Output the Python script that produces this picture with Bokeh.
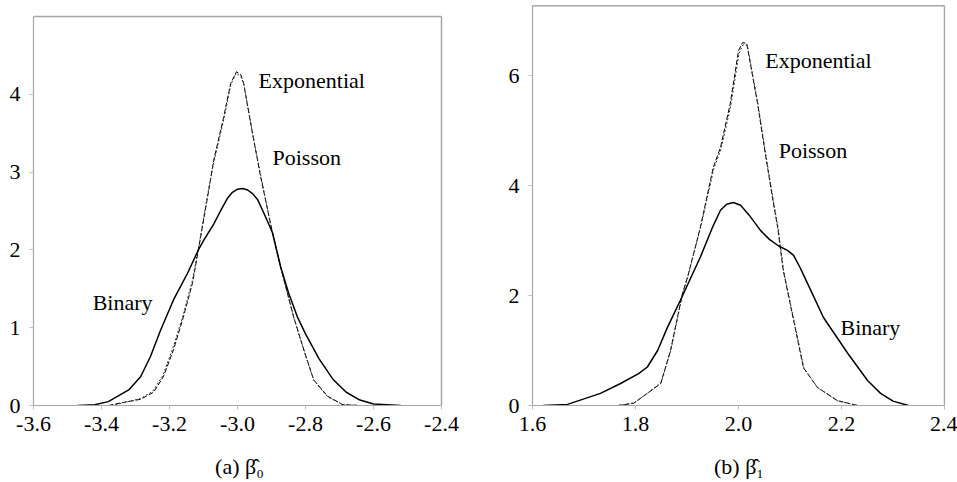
from bokeh.plotting import figure
from bokeh.layouts import row
from bokeh.models import FixedTicker, Range1d
from bokeh.core.properties import value
from bokeh.embed import file_html
from bokeh.resources import INLINE

FONT = "'Liberation Serif', 'Times New Roman', serif"

# ---------- panel (a): beta_0 ----------
a_binary_x = [-3.47, -3.42, -3.38, -3.32, -3.285, -3.256, -3.226, -3.188, -3.147, -3.115,
              -3.1, -3.07, -3.05, -3.03, -3.015, -3.0, -2.985, -2.97, -2.955, -2.94,
              -2.917, -2.897, -2.873, -2.85, -2.824, -2.8, -2.76, -2.718, -2.68, -2.64,
              -2.6, -2.52]
a_binary_y = [0.0, 0.01, 0.05, 0.2, 0.37, 0.63, 0.97, 1.36, 1.7, 2.0,
              2.12, 2.33, 2.5, 2.66, 2.74, 2.78, 2.79, 2.77, 2.72, 2.64,
              2.42, 2.22, 1.78, 1.45, 1.14, 0.92, 0.6, 0.33, 0.17, 0.07,
              0.02, 0.0]

a_expo_x = [-3.38, -3.335, -3.285, -3.247, -3.218, -3.188, -3.159, -3.132, -3.115, -3.088,
            -3.07, -3.041, -3.02, -3.003, -2.99, -2.982, -2.956, -2.932, -2.897, -2.873,
            -2.835, -2.8, -2.776, -2.735, -2.69, -2.638]
a_expo_y = [0.0, 0.04, 0.08, 0.17, 0.37, 0.72, 1.14, 1.58, 2.0, 2.68,
            3.15, 3.7, 4.14, 4.29, 4.25, 4.14, 3.5, 2.94, 2.22, 1.78,
            1.14, 0.65, 0.33, 0.12, 0.01, 0.0]

a_pois_x = [-3.37, -3.33, -3.285, -3.25, -3.22, -3.19, -3.16, -3.133, -3.115, -3.09,
            -3.07, -3.04, -3.02, -3.004, -2.99, -2.981, -2.955, -2.93, -2.897, -2.872,
            -2.834, -2.8, -2.775, -2.735, -2.69, -2.64]
a_pois_y = [0.0, 0.04, 0.09, 0.18, 0.38, 0.74, 1.16, 1.6, 2.02, 2.66,
            3.12, 3.68, 4.12, 4.27, 4.23, 4.12, 3.48, 2.92, 2.2, 1.76,
            1.12, 0.64, 0.32, 0.11, 0.01, 0.0]

a_label_text = ["Exponential", "Poisson", "Binary"]
a_label_x = [-2.938, -2.897, -3.426]
a_label_y = [4.18, 3.19, 1.33]
a_xticks = [-3.6, -3.4, -3.2, -3.0, -2.8, -2.6, -2.4]
a_xtick_labels = ["-3.6", "-3.4", "-3.2", "-3.0", "-2.8", "-2.6", "-2.4"]
a_yticks = [0, 1, 2, 3, 4]
a_ytick_labels = ["0", "1", "2", "3", "4"]
a_xmin, a_xmax = -3.6, -2.4
a_ymax = 5.0          # top of the chart box of panel (a)

# ---------- panel (b): beta_1 ----------
b_binary_x = [1.621, 1.668, 1.732, 1.771, 1.806, 1.823, 1.843, 1.862, 1.887, 1.926,
              1.95, 1.965, 1.977, 1.99, 2.004, 2.02, 2.043, 2.06, 2.078, 2.095,
              2.107, 2.12, 2.134, 2.165, 2.212, 2.251, 2.276, 2.30, 2.33]
b_binary_y = [0.0, 0.02, 0.22, 0.4, 0.58, 0.7, 1.0, 1.42, 1.91, 2.7,
              3.25, 3.55, 3.66, 3.69, 3.64, 3.47, 3.18, 3.02, 2.9, 2.82,
              2.73, 2.5, 2.22, 1.6, 0.95, 0.45, 0.22, 0.08, 0.0]

b_expo_x = [1.765, 1.796, 1.823, 1.849, 1.868, 1.891, 1.901, 1.926, 1.951, 1.965,
            1.984, 2.0, 2.008, 2.016, 2.023, 2.037, 2.052, 2.066, 2.076, 2.087,
            2.107, 2.126, 2.153, 2.192, 2.231]
b_expo_y = [0.0, 0.04, 0.22, 0.4, 1.0, 2.03, 2.33, 3.24, 4.33, 4.69,
            5.49, 6.45, 6.6, 6.58, 6.22, 5.49, 4.58, 3.78, 3.24, 2.45,
            1.55, 0.69, 0.33, 0.09, 0.0]

b_pois_x = [1.768, 1.798, 1.824, 1.85, 1.869, 1.892, 1.902, 1.927, 1.952, 1.966,
            1.985, 2.001, 2.009, 2.017, 2.024, 2.038, 2.053, 2.067, 2.077, 2.088,
            2.108, 2.127, 2.154, 2.193, 2.232]
b_pois_y = [0.0, 0.05, 0.23, 0.42, 1.02, 2.05, 2.35, 3.26, 4.3, 4.66,
            5.45, 6.4, 6.56, 6.55, 6.2, 5.47, 4.56, 3.76, 3.22, 2.43,
            1.53, 0.68, 0.32, 0.08, 0.0]

b_label_text = ["Exponential", "Poisson", "Binary"]
b_label_x = [2.052, 2.078, 2.198]
b_label_y = [6.27, 4.64, 1.42]
b_xticks = [1.6, 1.8, 2.0, 2.2, 2.4]
b_xtick_labels = ["1.6", "1.8", "2.0", "2.2", "2.4"]
b_yticks = [0, 2, 4, 6]
b_ytick_labels = ["0", "2", "4", "6"]
b_xmin, b_xmax = 1.6, 2.4
b_ymax = 7.27

BOX = "#a6a6a6"


def make_panel(width, height, bl, br, bt, bb, xpx, ypx, xmin, xmax, box_top,
               xticks, xlabels, yticks, ylabels,
               title, bx, by, ex, ey, px_, py_, lt, lx, ly):
    # scale: xpx pixels per x unit, ypx pixels per y unit
    fw = width - bl - br
    fh = height - bt - bb
    p = figure(width=width, height=height, output_backend="svg", toolbar_location=None,
               x_range=Range1d(xmin, xmin + fw / xpx), y_range=Range1d(0, fh / ypx),
               min_border_left=bl, min_border_right=br, min_border_top=bt, min_border_bottom=bb)
    p.xgrid.visible = False
    p.ygrid.visible = False
    p.outline_line_color = None
    p.background_fill_color = "white"
    p.border_fill_color = "white"

    for ax in (p.xaxis[0], p.yaxis[0]):
        ax.axis_line_color = BOX
        ax.axis_line_width = 1.2
        ax.major_tick_line_color = "#bfbfbf"
        ax.major_tick_in = 0
        ax.major_tick_out = 4
        ax.minor_tick_line_color = None
        ax.major_label_text_font = FONT
        ax.major_label_text_font_size = "22px"
        ax.major_label_text_color = "black"

    p.xaxis.bounds = (xmin, xmax)
    p.yaxis.bounds = (0, box_top)
    p.xaxis.ticker = FixedTicker(ticks=xticks)
    p.yaxis.ticker = FixedTicker(ticks=yticks)
    p.xaxis.major_label_overrides = {t: s for t, s in zip(xticks, xlabels)}
    p.yaxis.major_label_overrides = {t: s for t, s in zip(yticks, ylabels)}
    p.xaxis.major_label_standoff = 7
    p.yaxis.major_label_standoff = 9
    p.xaxis.axis_label = title
    p.xaxis.axis_label_text_font = FONT
    p.xaxis.axis_label_text_font_style = "normal"
    p.xaxis.axis_label_text_font_size = "22px"
    p.xaxis.axis_label_text_color = "black"
    p.xaxis.axis_label_standoff = 20

    # chart box: top edge and right edge (left / bottom are the axes)
    p.segment(x0=[xmin, xmax], y0=[box_top, 0], x1=[xmax, xmax], y1=[box_top, box_top],
              line_color=BOX, line_width=1.5)

    p.line(ex, ey, line_color="black", line_width=1.0, line_dash="5 2")
    p.line(px_, py_, line_color="#333333", line_width=1.0, line_dash="2 2")
    p.line(bx, by, line_color="black", line_width=1.5)

    p.text(x=lx, y=ly, text=lt, text_font=value(FONT), text_font_size="22px",
           text_color="black", text_align="left", text_baseline="middle")
    return p


pa = make_panel(480, 482, 33, 35, 3, 76, 340.0, 78.0, a_xmin, a_xmax, a_ymax,
                a_xticks, a_xtick_labels, a_yticks, a_ytick_labels,
                "(a) β̂₀", a_binary_x, a_binary_y, a_expo_x, a_expo_y, a_pois_x, a_pois_y,
                a_label_text, a_label_x, a_label_y)
pb = make_panel(477, 482, 52, 12, 3, 77, 515.0, 55.0, b_xmin, b_xmax, b_ymax,
                b_xticks, b_xtick_labels, b_yticks, b_ytick_labels,
                "(b) β̂₁", b_binary_x, b_binary_y, b_expo_x, b_expo_y, b_pois_x, b_pois_y,
                b_label_text, b_label_x, b_label_y)

layout = row(pa, pb)
open("out.html", "w").write(file_html(layout, INLINE))
